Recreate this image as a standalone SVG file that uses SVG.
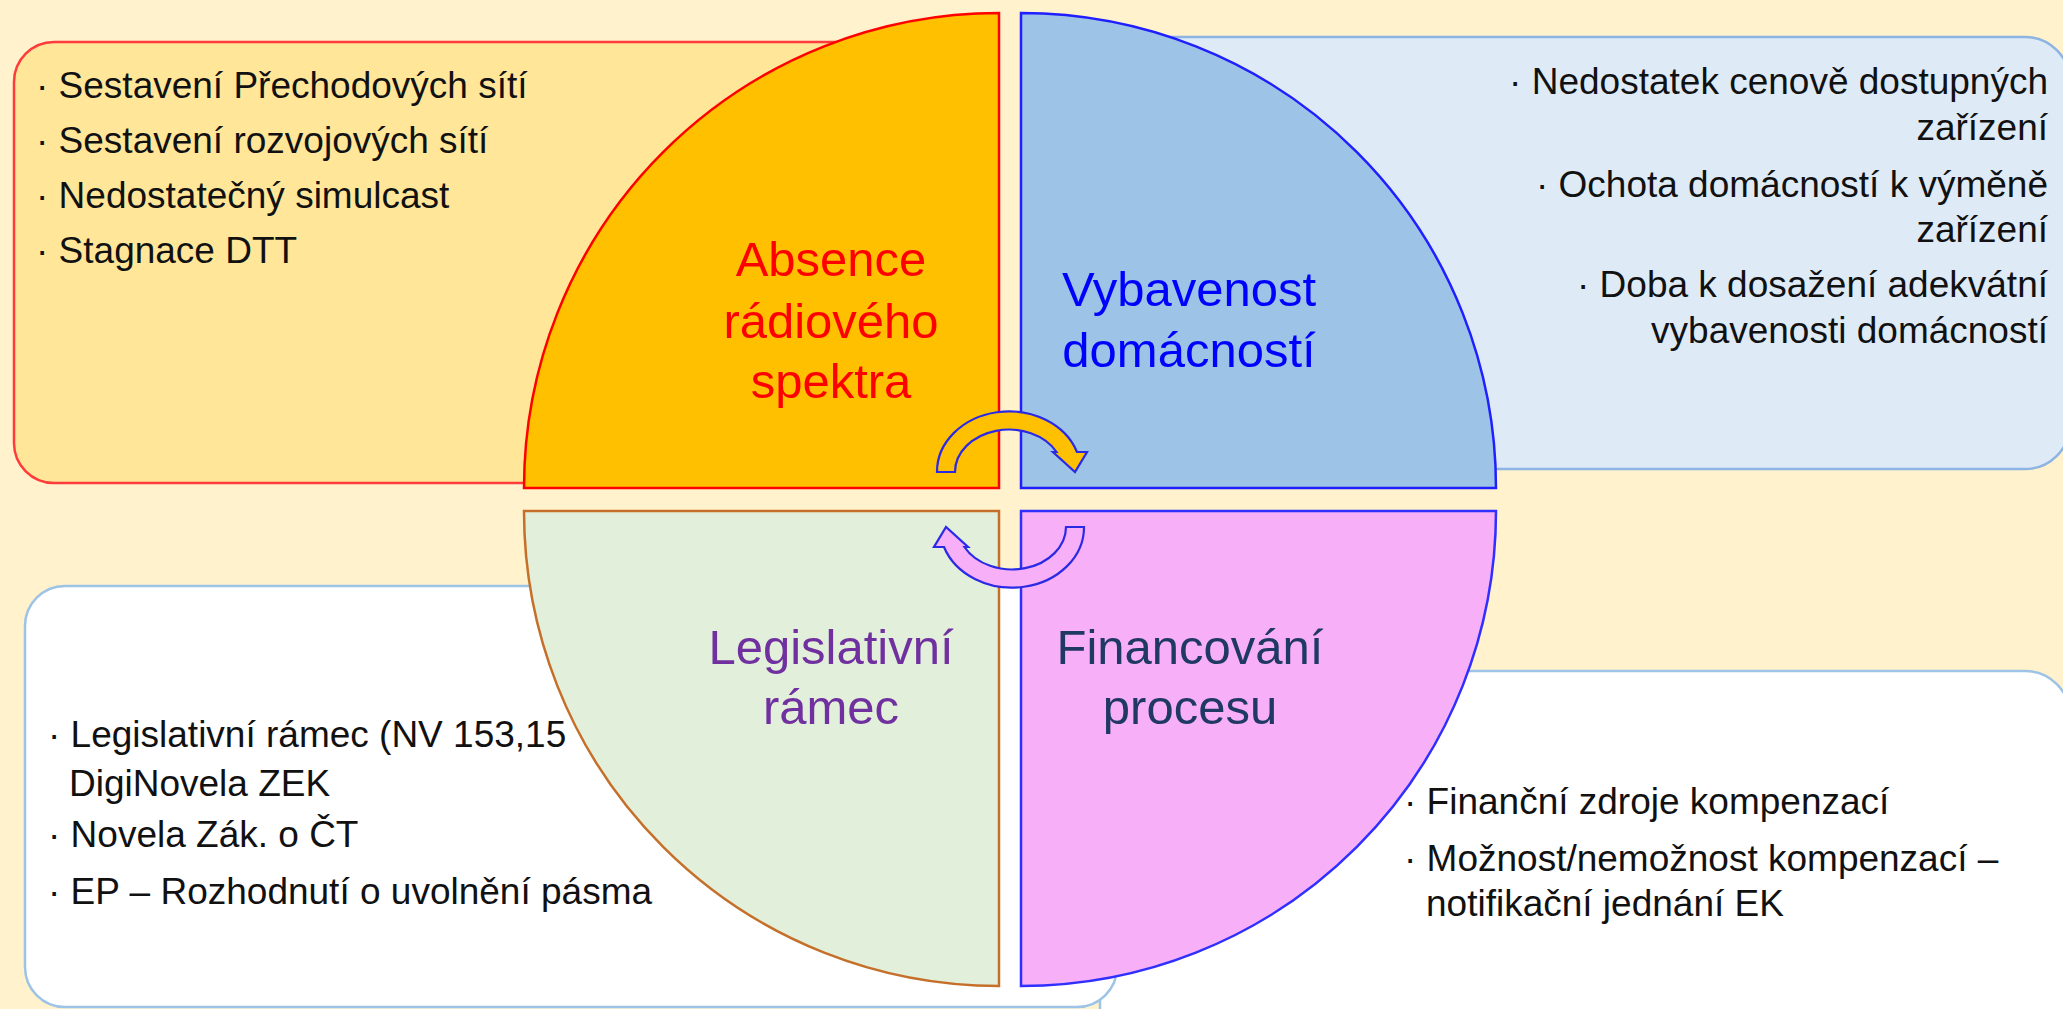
<svg xmlns="http://www.w3.org/2000/svg" width="2063" height="1009" viewBox="0 0 2063 1009">
<style>
.bt{font-family:"Liberation Sans",Arial,sans-serif;font-size:37px;fill:#111}
.lb{font-family:"Liberation Sans",Arial,sans-serif;font-size:49px;text-anchor:middle}
.arrow{stroke:#2a2ae6;stroke-width:2.2;stroke-linejoin:miter}
</style>
<defs>
<path id="carrow" d="M 937,472 A 72 60.5 0 0 1 1077,452 L 1087,452 L 1075,472 L 1053,452 L 1056.6,452 A 54 42.5 0 0 0 955,472 Z"/>
</defs>
<rect x="0" y="0" width="2063" height="1009" fill="#FFF2CC"/>

<g id="box-financovani">
<rect x="1100" y="671" width="970" height="400" rx="45" fill="#FFFFFF" stroke="#9DC3E6" stroke-width="2.5"/>
<text class="bt" x="1404" y="814">· Finanční zdroje kompenzací</text>
<text class="bt" x="1404" y="871">· Možnost/nemožnost kompenzací –</text>
<text class="bt" x="1426" y="916">notifikační jednání EK</text>
</g>

<g id="box-legislativa">
<rect x="25" y="586" width="1092" height="421" rx="40" fill="#FFFFFF" stroke="#9DC3E6" stroke-width="2.5"/>
<text class="bt" x="48" y="747">· Legislativní rámec (NV 153,15</text>
<text class="bt" x="69" y="796">DigiNovela ZEK</text>
<text class="bt" x="48" y="847">· Novela Zák. o ČT</text>
<text class="bt" x="48" y="904">· EP – Rozhodnutí o uvolnění pásma</text>
</g>

<g id="box-spektrum">
<rect x="14" y="42" width="950" height="441" rx="40" fill="#FFE699" stroke="#FF3B3B" stroke-width="2.5"/>
<text class="bt" x="36" y="98">· Sestavení Přechodových sítí</text>
<text class="bt" x="36" y="153">· Sestavení rozvojových sítí</text>
<text class="bt" x="36" y="208">· Nedostatečný simulcast</text>
<text class="bt" x="36" y="263">· Stagnace DTT</text>
</g>

<g id="box-vybavenost">
<rect x="1100" y="37" width="970" height="432" rx="45" fill="#DEEBF7" stroke="#8DB4E2" stroke-width="2.5"/>
<g text-anchor="end">
<text class="bt" x="2048" y="94">· Nedostatek cenově dostupných</text>
<text class="bt" x="2048" y="140">zařízení</text>
<text class="bt" x="2048" y="197">· Ochota domácností k výměně</text>
<text class="bt" x="2048" y="242">zařízení</text>
<text class="bt" x="2048" y="297">· Doba k dosažení adekvátní</text>
<text class="bt" x="2048" y="343">vybavenosti domácností</text>
</g>
</g>

<g id="q-spektrum">
<path d="M 999,488 L 524,488 A 475 475 0 0 1 999,13 Z" fill="#FFC000" stroke="#FF0000" stroke-width="2.5"/>
<text class="lb" fill="#FF0000" x="831" y="276">Absence</text>
<text class="lb" fill="#FF0000" x="831" y="338">rádiového</text>
<text class="lb" fill="#FF0000" x="831" y="398">spektra</text>
</g>

<g id="q-vybavenost">
<path d="M 1021,488 L 1021,13 A 475 475 0 0 1 1496,488 Z" fill="#9DC3E6" stroke="#1F1FFF" stroke-width="2.5"/>
<text class="lb" fill="#0000FF" x="1189" y="306">Vybavenost</text>
<text class="lb" fill="#0000FF" x="1189" y="367">domácností</text>
</g>

<g id="q-legislativa">
<path d="M 999,511 L 999,986 A 475 475 0 0 1 524,511 Z" fill="#E2EFDA" stroke="#C5702A" stroke-width="2.5"/>
<text class="lb" fill="#7030A0" x="831" y="664">Legislativní</text>
<text class="lb" fill="#7030A0" x="831" y="724">rámec</text>
</g>

<g id="q-financovani">
<path d="M 1021,511 L 1496,511 A 475 475 0 0 1 1021,986 Z" fill="#F7B0F7" stroke="#2F2FFF" stroke-width="2.5"/>
<text class="lb" fill="#1F3864" x="1190" y="664">Financování</text>
<text class="lb" fill="#1F3864" x="1190" y="724">procesu</text>
</g>

<g id="connectors">
<use href="#carrow" class="arrow" fill="#FFC000"/>
<use href="#carrow" class="arrow" fill="#F7B0F7" transform="rotate(180 1010.5 499.5)"/>
</g>
</svg>
